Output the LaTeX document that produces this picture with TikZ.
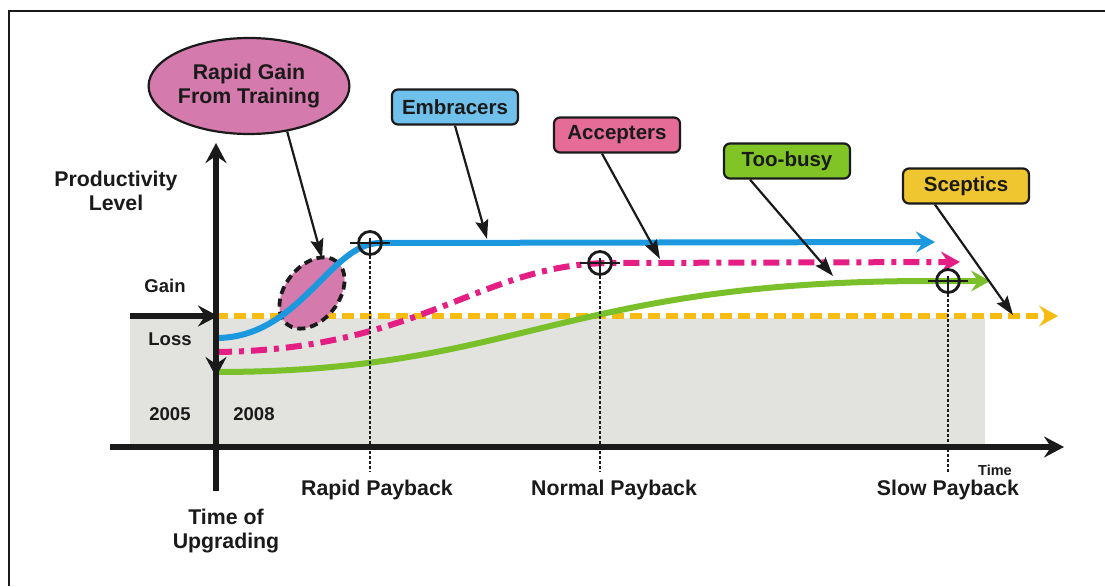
\documentclass[tikz,border=0pt]{standalone}
\usepackage{fontspec}
\setmainfont{Liberation Sans}
\usetikzlibrary{arrows.meta,shapes.geometric}
\definecolor{cblue}{RGB}{28,152,222}
\definecolor{cpink}{RGB}{228,30,130}
\definecolor{cgreen}{RGB}{122,192,42}
\definecolor{corange}{RGB}{246,188,18}
\definecolor{cgray}{RGB}{226,227,223}
\definecolor{boxblue}{RGB}{112,192,236}
\definecolor{boxpink}{RGB}{228,108,150}
\definecolor{boxgreen}{RGB}{128,196,38}
\definecolor{boxyellow}{RGB}{240,198,48}
\definecolor{ellpink}{RGB}{212,122,172}
\definecolor{ink}{RGB}{26,26,26}
\begin{document}
\begin{tikzpicture}[x=1pt,y=-1pt,
  lbl/.style={font=\fontsize{21.3}{24}\selectfont\bfseries, text=ink, align=center, inner sep=0pt},
  lblm/.style={font=\fontsize{18.5}{21}\selectfont\bfseries, text=ink, align=center, inner sep=0pt},
  small/.style={font=\fontsize{14.5}{16}\selectfont\bfseries, text=ink, inner sep=0pt},
  tag/.style={draw=ink, line width=2.2pt, rounded corners=6pt, minimum width=126pt, minimum height=35pt, inner sep=0pt, font=\fontsize{20.5}{23}\selectfont\bfseries, text=ink},
  ptr/.style={draw=ink, line width=2.2pt, -{Stealth[length=19pt,width=13pt,inset=3pt]}},
  axis/.style={draw=ink, line width=6pt, -{Stealth[length=20pt,width=21pt,inset=7pt]}},
  curvearrow/.style={line width=6pt, -{Stealth[length=19pt,width=21pt,inset=7pt]}},
  cross/.style={circle, draw=ink, line width=2.8pt, minimum size=23pt, inner sep=0pt},
  guide/.style={draw=ink, line width=2.2pt, dash pattern=on 3pt off 2pt}
]
\useasboundingbox (0,0) rectangle (1105,586);
% frame
\draw[ink, line width=2.5pt] (9,586) -- (9,11) -- (1105,11);
% gray loss area
\fill[cgray] (130,318) rectangle (985,447);
% sceptics line
\coordinate (os) at (216,316);
\coordinate (oe) at (1058,316);
\draw[corange, curvearrow, dash pattern=on 12pt off 6pt] (os) -- (oe);
% dashed ellipse (rapid gain)
\node[ellipse, draw=ink, fill=ellpink, line width=3.8pt, dash pattern=on 8pt off 5pt, rotate=52, minimum width=80pt, minimum height=54pt] (de) at (312,293) {};
% curves
\coordinate (bs) at (216,338);
\coordinate (bc1) at (300,338);
\coordinate (bc2) at (330,243);
\coordinate (bm) at (380,243);
\coordinate (be) at (935,242);
\draw[cblue, curvearrow] (bs) .. controls (bc1) and (bc2) .. (bm) -- (be);
\coordinate (ps) at (216,352);
\coordinate (pc1) at (420,350);
\coordinate (pc2) at (480,264);
\coordinate (pm) at (610,263);
\coordinate (pe) at (960,262);
\draw[cpink, curvearrow, dash pattern=on 16pt off 7pt on 5pt off 7pt] (ps) .. controls (pc1) and (pc2) .. (pm) -- (pe);
\coordinate (gs) at (216,372);
\coordinate (gc1) at (520,372);
\coordinate (gc2) at (560,281);
\coordinate (gm) at (930,281);
\coordinate (ge) at (990,281);
\draw[cgreen, curvearrow] (gs) .. controls (gc1) and (gc2) .. (gm) -- (ge);
% axes
\coordinate (hs) at (110,447);
\coordinate (he) at (1064,447);
\draw[axis] (hs) -- (he);
\coordinate (vb) at (216,491);
\coordinate (vt) at (216,143);
\draw[axis] (vb) -- (vt);
\coordinate (ds) at (216,330);
\coordinate (dt) at (216,377);
\draw[axis] (ds) -- (dt);
\coordinate (gl) at (130,316);
\coordinate (gr) at (218,316);
\draw[axis] (gl) -- (gr);
% crosshairs and payback guides
\foreach \n/\x/\y in {c1/370/243, c2/600/263, c3/948/281} {
  \node[cross] (\n) at (\x,\y) {};
  \draw[ink, line width=2.6pt] ([xshift=-7pt]\n.west) -- ([xshift=7pt]\n.east);
  \draw[ink, line width=2.6pt] ([yshift=-8pt]\n.north) -- (\n.south);
  \coordinate (\n b) at (\x,472);
  \draw[guide] (\n.south) -- (\n b);
}
% labels
\node[lbl] (prod) at (116,191) {Productivity\\Level};
\node[lblm] (gain) at (165,286) {Gain};
\node[lblm] (loss) at (170,339) {Loss};
\node[lblm] (y5) at (170,414) {2005};
\node[lblm] (y8) at (254,414) {2008};
\node[lbl] (rp) at (377,490) {Rapid Payback};
\node[lbl] (np) at (614,490) {Normal Payback};
\node[lbl] (sp) at (948,490) {Slow Payback};
\node[small] (time) at (995,470) {Time};
\node[lbl] (tu) at (226,531) {Time of\\Upgrading};
% rapid gain ellipse
\node[ellipse, draw=ink, line width=2.2pt, fill=ellpink, minimum width=166pt, minimum height=96pt, lbl] (rg) at (249,86) {Rapid Gain\\From Training};
\coordinate (rgt) at (322,258);
\draw[ptr] (rg.-50) -- (rgt);
% tags
\node[tag, fill=boxblue] (emb) at (455,107) {Embracers};
\node[tag, fill=boxpink] (acc) at (617,135) {Accepters};
\node[tag, fill=boxgreen] (tb) at (787,161) {Too-busy};
\node[tag, fill=boxyellow] (sc) at (966,186) {Sceptics};
\coordinate (embt) at (487,239);
\coordinate (acct) at (660,259);
\coordinate (tbt) at (833,276);
\coordinate (sct) at (1013,315);
\draw[ptr] (emb.south) -- (embt);
\draw[ptr] ([xshift=-15pt]acc.south) -- (acct);
\draw[ptr] ([xshift=-37pt]tb.south) -- (tbt);
\draw[ptr] ([xshift=-31pt]sc.south) -- (sct);
\end{tikzpicture}
\end{document}
